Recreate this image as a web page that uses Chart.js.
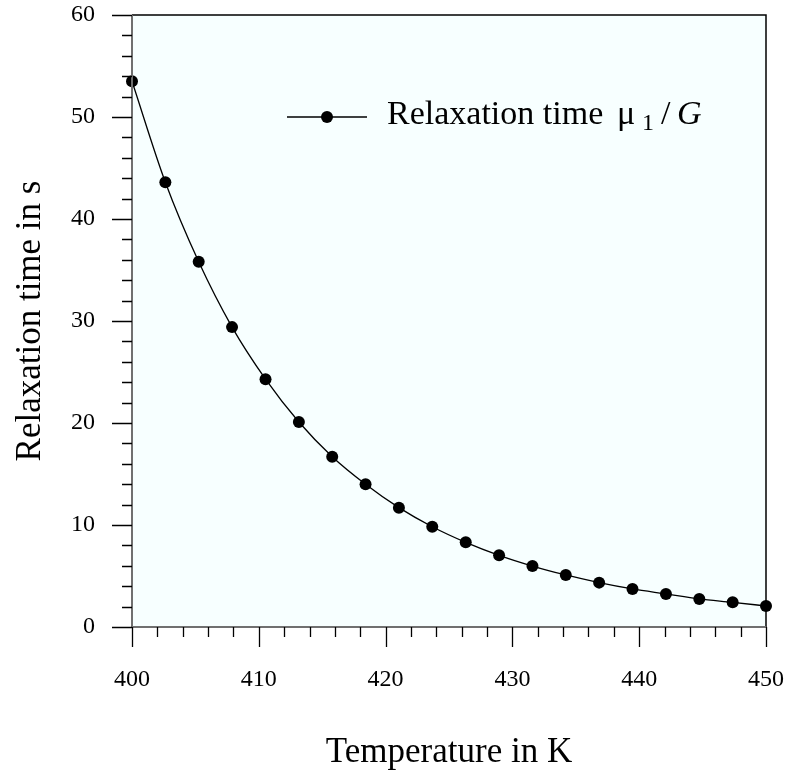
<!DOCTYPE html>
<html>
<head>
<meta charset="utf-8">
<script src="https://cdn.jsdelivr.net/npm/chart.js@4/dist/chart.umd.min.js"></script>
<style>
  html, body { margin: 0; padding: 0; background: #fff; }
  #wrap { width: 787px; height: 775px; position: relative; }
</style>
</head>
<body>
<div id="wrap"><canvas id="chart"></canvas></div>
<script>
// temperature in K
const temps = [400, 402.63, 405.26, 407.89, 410.53, 413.16, 415.79, 418.42, 421.05, 423.68,
               426.32, 428.95, 431.58, 434.21, 436.84, 439.47, 442.11, 444.74, 447.37, 450];
// relaxation time mu1/G in s
const relax = [53.5, 43.6, 35.8, 29.4, 24.3, 20.1, 16.7, 14.0, 11.7, 9.83,
               8.30, 7.03, 5.98, 5.10, 4.35, 3.73, 3.24, 2.75, 2.42, 2.06];

const xRange = [400, 450];
const yRange = [0, 60];
const xLabel = 'Temperature in K';
const yLabel = 'Relaxation time in s';

const SERIF = "'Liberation Serif', 'Times New Roman', serif";

// background of plot area, frame and outward ticks (major + minor)
const framePlugin = {
  id: 'frame',
  beforeDraw(chart) {
    const a = chart.chartArea, ctx = chart.ctx;
    ctx.save();
    ctx.fillStyle = '#f7ffff';
    ctx.fillRect(a.left, a.top, a.right - a.left, a.bottom - a.top);
    ctx.restore();
  },
  afterDraw(chart) {
    const a = chart.chartArea, ctx = chart.ctx;
    const xs = chart.scales.x, ys = chart.scales.y;
    ctx.save();
    // top & right border
    ctx.strokeStyle = '#000';
    ctx.lineWidth = 1.5;
    ctx.beginPath();
    ctx.moveTo(a.left, a.top); ctx.lineTo(a.right, a.top); ctx.lineTo(a.right, a.bottom);
    ctx.stroke();
    // axis lines
    ctx.strokeStyle = '#707070';
    ctx.lineWidth = 2;
    ctx.beginPath();
    ctx.moveTo(a.left, a.top); ctx.lineTo(a.left, a.bottom); ctx.lineTo(a.right, a.bottom);
    ctx.stroke();
    // ticks
    ctx.strokeStyle = '#000';
    ctx.lineWidth = 1.3;
    ctx.beginPath();
    ys.ticks.forEach(function(t) {
      const p = Math.round(ys.getPixelForValue(t.value)) + 0.5;
      const len = t.value % 10 === 0 ? 20 : 10;
      ctx.moveTo(a.left - len, p); ctx.lineTo(a.left, p);
    });
    xs.ticks.forEach(function(t) {
      const p = Math.round(xs.getPixelForValue(t.value)) + 0.5;
      const len = t.value % 10 === 0 ? 20 : 10;
      ctx.moveTo(p, a.bottom); ctx.lineTo(p, a.bottom + len);
    });
    ctx.stroke();
    ctx.restore();
  }
};

// legend with subscript and italic G
const legendPlugin = {
  id: 'mathLegend',
  afterDraw(chart) {
    const a = chart.chartArea, ctx = chart.ctx;
    const y = a.top + 102;
    const x0 = a.left + 155;
    ctx.save();
    ctx.strokeStyle = '#000';
    ctx.lineWidth = 1.3;
    ctx.beginPath(); ctx.moveTo(x0, y); ctx.lineTo(x0 + 80, y); ctx.stroke();
    ctx.fillStyle = '#000';
    ctx.beginPath(); ctx.arc(x0 + 40, y, 6, 0, Math.PI * 2); ctx.fill();

    const base = y + 7;
    ctx.textBaseline = 'alphabetic';
    ctx.textAlign = 'left';
    ctx.font = '34px ' + SERIF;
    ctx.fillText('Relaxation time', x0 + 100, base);
    ctx.fillText('\u03bc', a.left + 485, base);
    ctx.font = '24px ' + SERIF;
    ctx.fillText('1', a.left + 510, base + 6);
    ctx.font = '34px ' + SERIF;
    ctx.fillText('/', a.left + 529, base);
    ctx.font = 'italic 34px ' + SERIF;
    ctx.fillText('G', a.left + 545, base);
    ctx.restore();
  }
};

const points = temps.map(function(t, i) { return { x: t, y: relax[i] }; });

new Chart(document.getElementById('chart'), {
  type: 'line',
  data: {
    datasets: [{
      label: 'Relaxation time',
      data: points,
      borderColor: '#000',
      backgroundColor: '#000',
      borderWidth: 1.3,
      pointRadius: 6,
      pointHoverRadius: 6,
      pointBackgroundColor: '#000',
      pointBorderWidth: 0,
      cubicInterpolationMode: 'monotone',
      fill: false,
      clip: false
    }]
  },
  options: {
    responsive: true,
    maintainAspectRatio: false,
    animation: false,
    devicePixelRatio: 1,
    layout: { padding: { top: 15, right: 21, left: 0, bottom: 0 } },
    plugins: { legend: { display: false }, tooltip: { enabled: false } },
    scales: {
      x: {
        type: 'linear',
        min: xRange[0], max: xRange[1],
        afterFit: function(s) { s.height = 148; s.paddingLeft = 0; s.paddingRight = 0; },
        grid: { display: false, drawTicks: false },
        border: { display: false },
        ticks: {
          stepSize: 2, autoSkip: false, maxRotation: 0, padding: 38,
          color: '#000', font: { family: SERIF, size: 24 },
          callback: function(v) { return v % 10 === 0 ? String(v) : ''; }
        },
        title: {
          display: true, text: xLabel, color: '#000',
          font: { family: SERIF, size: 35 },
          padding: { top: 0, bottom: 1 }
        }
      },
      y: {
        type: 'linear',
        min: yRange[0], max: yRange[1],
        afterFit: function(s) { s.width = 132; s.paddingTop = 0; s.paddingBottom = 0; },
        grid: { display: false, drawTicks: false },
        border: { display: false },
        ticks: {
          stepSize: 2, autoSkip: false, padding: 37,
          color: '#000', font: { family: SERIF, size: 24 },
          callback: function(v) { return v % 10 === 0 ? String(v) : ''; }
        },
        title: {
          display: true, text: yLabel, color: '#000',
          font: { family: SERIF, size: 35 },
          padding: { top: 10, bottom: 0 }
        }
      }
    }
  },
  plugins: [framePlugin, legendPlugin]
});
</script>
</body>
</html>
